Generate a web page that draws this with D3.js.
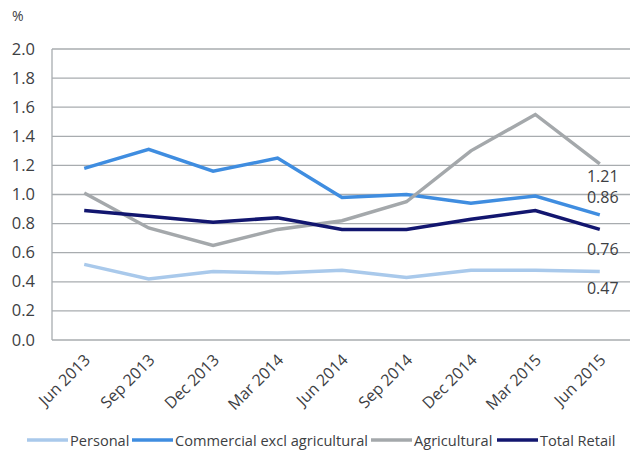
<!DOCTYPE html>
<html>
<head>
<meta charset="utf-8">
<script src="https://cdn.jsdelivr.net/npm/d3@7"></script>
<style>
  body { margin: 0; background: #fff; }
  svg text { font-family: "Open Sans", "Noto Sans", sans-serif; fill: #3d4043; }
</style>
</head>
<body>
<svg id="chart"></svg>
<script>
// quarters on the x axis
var quarters = ["Jun 2013", "Sep 2013", "Dec 2013", "Mar 2014", "Jun 2014",
                "Sep 2014", "Dec 2014", "Mar 2015", "Jun 2015"];
var yTicks = [0, 0.2, 0.4, 0.6, 0.8, 1.0, 1.2, 1.4, 1.6, 1.8, 2.0];

var personal     = [0.52, 0.42, 0.47, 0.46, 0.48, 0.43, 0.48, 0.48, 0.47];
var commercial   = [1.18, 1.31, 1.16, 1.25, 0.98, 1.00, 0.94, 0.99, 0.86];
var agricultural = [1.01, 0.77, 0.65, 0.76, 0.82, 0.95, 1.30, 1.55, 1.21];
var totalRetail  = [0.89, 0.85, 0.81, 0.84, 0.76, 0.76, 0.83, 0.89, 0.76];

var seriesNames = ["Personal", "Commercial excl agricultural", "Agricultural", "Total Retail"];

var width = 630, height = 450;
var margin = {top: 49, right: -2, bottom: 110, left: 52};

var svg = d3.select('#chart').attr('width', width).attr('height', height);

var series = [
  {name: seriesNames[0], values: personal,     color: '#a9c9eb', labelDy: 22},
  {name: seriesNames[1], values: commercial,   color: '#3f8de0', labelDy: -12},
  {name: seriesNames[2], values: agricultural, color: '#a4a8ab', labelDy: 18},
  {name: seriesNames[3], values: totalRetail,  color: '#12166f', labelDy: 26}
];

var x = d3.scalePoint()
  .domain(quarters)
  .range([margin.left, width - margin.right])
  .padding(0.5);

var y = d3.scaleLinear()
  .domain([0, 2])
  .range([height - margin.bottom, margin.top]);

// gridlines
svg.append('g')
  .selectAll('line')
  .data(yTicks)
  .enter().append('line')
    .attr('x1', margin.left)
    .attr('x2', width)
    .attr('y1', d => y(d))
    .attr('y2', d => y(d))
    .attr('stroke', '#a8acaf')
    .attr('stroke-width', 1.3);

// left axis line
svg.append('line')
  .attr('x1', margin.left).attr('x2', margin.left)
  .attr('y1', y(2)).attr('y2', y(0))
  .attr('stroke', '#a8acaf')
  .attr('stroke-width', 1.3);

// y tick labels
svg.append('g')
  .selectAll('text')
  .data(yTicks)
  .enter().append('text')
    .attr('x', 35)
    .attr('y', d => y(d) + 5.5)
    .attr('text-anchor', 'end')
    .style('font-size', '16.5px')
    .text(d => d3.format('.1f')(d));

svg.append('text')
  .attr('x', 12).attr('y', 21)
  .style('font-size', '14px')
  .text('%');

// x tick labels
svg.append('g')
  .selectAll('text')
  .data(quarters)
  .enter().append('text')
    .attr('text-anchor', 'end')
    .attr('transform', d => 'translate(' + (x(d) + 7) + ',' + (y(0) + 21) + ') rotate(-45)')
    .style('font-size', '16px')
    .text(d => d);

// lines
var line = d3.line()
  .x((d, i) => x(quarters[i]))
  .y(d => y(d));

svg.append('g')
  .selectAll('path')
  .data(series)
  .enter().append('path')
    .attr('d', d => line(d.values))
    .attr('fill', 'none')
    .attr('stroke', d => d.color)
    .attr('stroke-width', 3.5);

// end labels
var last = quarters.length - 1;
svg.append('g')
  .selectAll('text')
  .data(series)
  .enter().append('text')
    .attr('x', x(quarters[last]) + 3)
    .attr('y', d => y(d.values[last]) + d.labelDy)
    .attr('text-anchor', 'middle')
    .style('font-size', '16px')
    .text(d => d3.format('.2f')(d.values[last]));

// legend
var legendX = [27, 132, 371, 497];
var legend = svg.append('g')
  .selectAll('g')
  .data(series)
  .enter().append('g')
    .attr('transform', (d, i) => 'translate(' + legendX[i] + ',440)');
legend.append('line')
  .attr('x1', 0).attr('x2', 41)
  .attr('stroke', d => d.color)
  .attr('stroke-width', 3.5);
legend.append('text')
  .attr('x', 43)
  .attr('y', 5.5)
  .style('font-size', '14.6px')
  .text(d => d.name);
</script>
</body>
</html>
